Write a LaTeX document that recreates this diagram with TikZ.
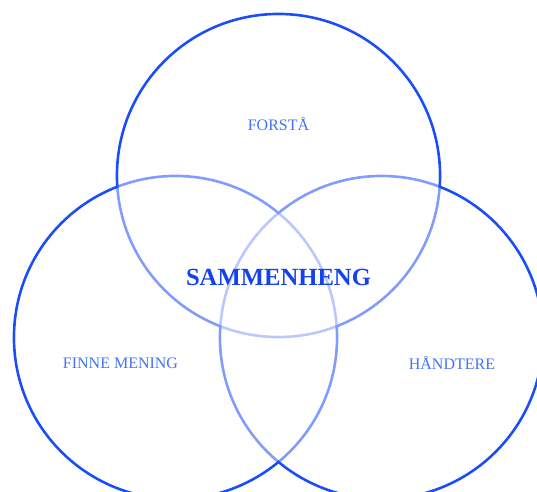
\documentclass[tikz,border=0pt]{standalone}
\usepackage{fontspec}
\setmainfont{Liberation Serif}
\usetikzlibrary{positioning}
\definecolor{RingBlue}{HTML}{1A4CFA}
\definecolor{LabelBlue}{HTML}{4474F5}
\definecolor{CoreBlue}{HTML}{1442EC}

\begin{document}
\begin{tikzpicture}[x=0.75pt,y=-0.75pt,ringline/.style={draw=RingBlue,line width=2pt},ringveil/.style={fill=white,fill opacity=0.45},labeltext/.style={text=LabelBlue,font=\fontsize{12}{14}\selectfont},coretext/.style={text=CoreBlue,font=\fontsize{18.5}{22}\selectfont\bfseries}]
\useasboundingbox (0,0) rectangle (537,492);
\coordinate (top) at (278.5,175.5);
\coordinate (left) at (175.5,337.5);
\coordinate (right) at (381.5,337.5);
% outlines first, then a white veil over each inside
\foreach \c in {top,left,right} \draw[ringline] (\c) circle[radius=161.5];
\foreach \c in {top,left,right} \fill[ringveil] (\c) circle[radius=160.2];
\node[labeltext] (forsta) at (278.5,124) {FORSTÅ};
\node[coretext] (sammenheng) at (278.5,277) {SAMMENHENG};
\node[labeltext] (finne) at (120.5,363) {FINNE MENING};
\node[labeltext] (handtere) at (452,363) {HÅNDTERE};
\end{tikzpicture}
\end{document}
